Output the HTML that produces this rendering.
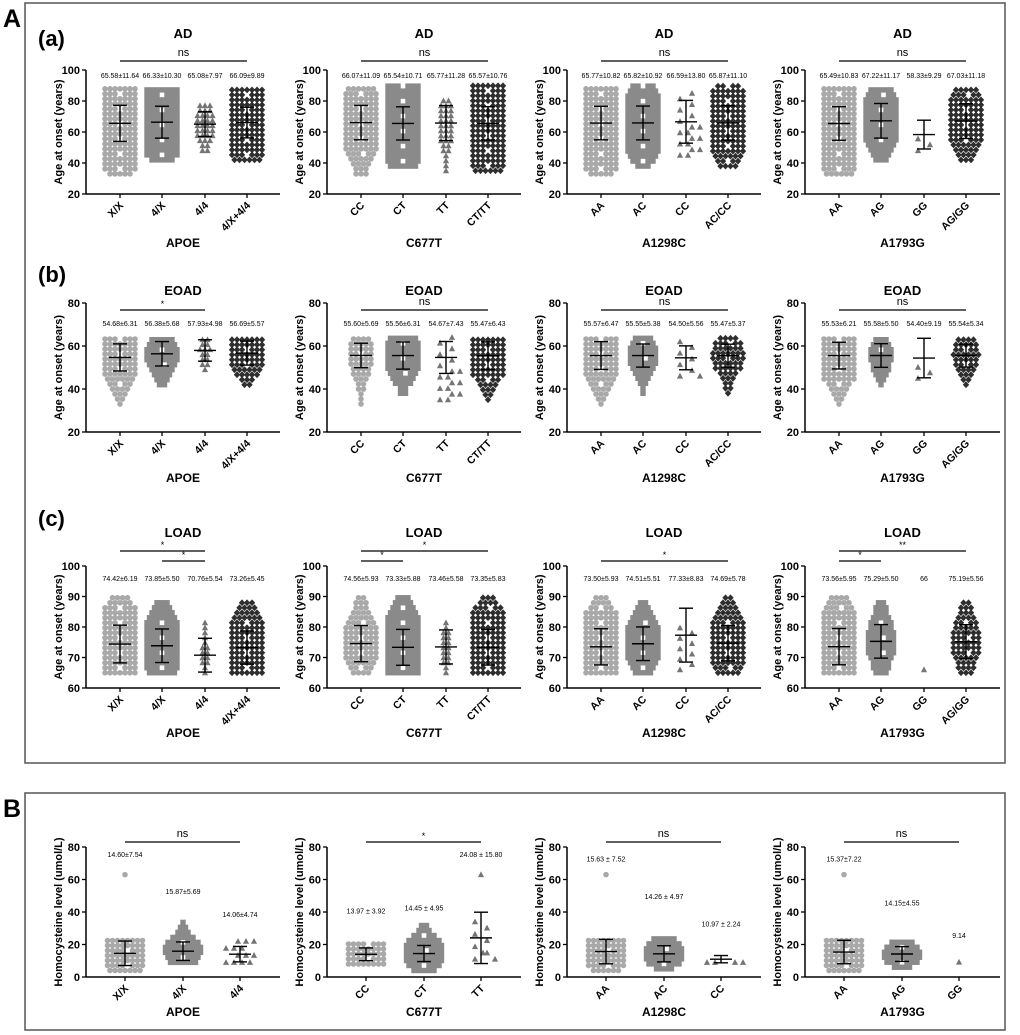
<!DOCTYPE html>
<html><head><meta charset="utf-8"><style>
body{margin:0;background:#fff;}
svg{display:block;font-family:"Liberation Sans",Arial,sans-serif;}
</style></head><body>
<svg id="fig" width="1020" height="1035" viewBox="0 0 1020 1035">
<rect x="25" y="3" width="980" height="760" fill="none" stroke="#555" stroke-width="1.5"/>
<rect x="25" y="793" width="980" height="237" fill="none" stroke="#555" stroke-width="1.5"/>
<text x="3" y="27" font-size="25" font-weight="bold">A</text>
<text x="3" y="817" font-size="25" font-weight="bold">B</text>
<text x="38" y="46" font-size="22" font-weight="bold">(a)</text>
<text x="38" y="282" font-size="22" font-weight="bold">(b)</text>
<text x="38" y="526" font-size="22" font-weight="bold">(c)</text>
</svg>
<script>
// ---- data (per plot: categories, means, sds, mins, maxs, ns) ----
const genes = ["APOE","C677T","A1298C","A1793G"];
const cats4 = [["X/X","4/X","4/4","4/X+4/4"],["CC","CT","TT","CT/TT"],["AA","AC","CC","AC/CC"],["AA","AG","GG","AG/GG"]];
const cats3 = [["X/X","4/X","4/4"],["CC","CT","TT"],["AA","AC","CC"],["AA","AG","GG"]];
// Row a: AD
const adMean = [[65.58,66.33,65.08,66.09],[66.07,65.54,65.77,65.57],[65.77,65.82,66.59,65.87],[65.49,67.22,58.33,67.03]];
const adSd   = [[11.64,10.30,7.97,9.89],[11.09,10.71,11.28,10.76],[10.82,10.92,13.80,11.10],[10.83,11.17,9.29,11.18]];
const adMin  = [[33,42,48,42],[33,38,35,35],[33,38,45,38],[33,42,48,42]];
const adMax  = [[91,88,80,88],[91,90,83,90],[91,90,85,90],[91,88,67,88]];
const adN    = [[400,250,50,300],[200,350,50,400],[400,200,18,220],[450,150,3,153]];
const adLbl  = [["65.58±11.64","66.33±10.30","65.08±7.97","66.09±9.89"],["66.07±11.09","65.54±10.71","65.77±11.28","65.57±10.76"],["65.77±10.82","65.82±10.92","66.59±13.80","65.87±11.10"],["65.49±10.83","67.22±11.17","58.33±9.29","67.03±11.18"]];
// Row b: EOAD
const eoMean = [[54.68,56.38,57.93,56.69],[55.60,55.56,54.67,55.47],[55.57,55.55,54.50,55.47],[55.53,55.58,54.40,55.54]];
const eoSd   = [[6.31,5.68,4.98,5.57],[5.69,6.31,7.43,6.43],[6.47,5.38,5.56,5.37],[6.21,5.50,9.19,5.34]];
const eoMin  = [[33,42,49,42],[33,38,35,35],[33,38,46,38],[33,42,45,42]];
const eoMax  = [[64,64,64,64],[64,64,64,64],[64,64,62,64],[64,64,63,64]];
const eoN    = [[130,80,25,105],[70,110,18,128],[150,70,8,78],[160,55,3,58]];
const eoLbl  = [["54.68±6.31","56.38±5.68","57.93±4.98","56.69±5.57"],["55.60±5.69","55.56±6.31","54.67±7.43","55.47±6.43"],["55.57±6.47","55.55±5.38","54.50±5.56","55.47±5.37"],["55.53±6.21","55.58±5.50","54.40±9.19","55.54±5.34"]];
// Row c: LOAD
const loMean = [[74.42,73.85,70.76,73.26],[74.56,73.33,73.46,73.35],[73.50,74.51,77.33,74.69],[73.56,75.29,66,75.19]];
const loSd   = [[6.19,5.50,5.54,5.45],[5.93,5.88,5.58,5.83],[5.93,5.51,8.83,5.78],[5.95,5.50,0,5.56]];
const loMin  = [[65,65,65,65],[65,65,65,65],[65,65,66,65],[65,65,66,65]];
const loMax  = [[91,88,82,88],[91,90,83,90],[91,89,90,90],[91,88,66,88]];
const loN    = [[270,170,25,195],[130,240,30,270],[250,130,9,140],[290,95,1,96]];
const loLbl  = [["74.42±6.19","73.85±5.50","70.76±5.54","73.26±5.45"],["74.56±5.93","73.33±5.88","73.46±5.58","73.35±5.83"],["73.50±5.93","74.51±5.51","77.33±8.83","74.69±5.78"],["73.56±5.95","75.29±5.50","66","75.19±5.56"]];
// Panel B: homocysteine
const hcMean = [[14.60,15.87,14.06],[13.97,14.45,24.08],[15.63,14.26,10.97],[15.37,14.15,9.14]];
const hcSd   = [[7.54,5.69,4.74],[3.92,4.95,15.80],[7.52,4.97,2.24],[7.22,4.55,0]];
const hcMin  = [[4,9,9],[8,4,11],[4,5,9],[4,6,9.14]];
const hcMax  = [[23,35,22],[23,32,34],[25,24,12],[24,22,9.14]];
const hcOut  = [[63,null,null],[null,null,63],[63,null,null],[63,null,null]];
const hcN    = [[120,70,13],[90,90,9],[120,70,4],[130,60,1]];
const hcLbl  = [["14.60±7.54","15.87±5.69","14.06±4.74"],["13.97 ± 3.92","14.45 ± 4.95","24.08 ± 15.80"],["15.63 ± 7.52","14.26 ± 4.97","10.97 ± 2.24"],["15.37±7.22","14.15±4.55","9.14"]];
const hcLblVal = [[74,51,37],[39,41,74],[71,48,31],[71,44,24]];
// significance annotations [plotIndex, fromCat, toCat, label, level]
const sigA = [[0,0,3,"ns",0],[1,0,3,"ns",0],[2,0,3,"ns",0],[3,0,3,"ns",0]];
const sigB = [[0,0,2,"*",0],[1,0,3,"ns",0],[2,0,3,"ns",0],[3,0,3,"ns",0]];
const sigC = [[0,0,2,"*",1],[0,1,2,"*",0],[1,0,1,"*",0],[1,0,3,"*",1],[2,0,3,"*",0],[3,0,3,"**",1],[3,0,1,"*",0]];
const sigH = [[0,0,2,"ns",0],[1,0,2,"*",0],[2,0,2,"ns",0],[3,0,2,"ns",0]];

const svg = document.getElementById('fig');
const NS = "http://www.w3.org/2000/svg";
const colors = ["#a9a9a9","#8a8a8a","#747474","#2e2e2e"];
const shapes = ["circle","square","triangle","diamond"];
function mk(tag, attrs, parent){ const e=document.createElementNS(NS,tag); for(const k in attrs) e.setAttribute(k,attrs[k]); (parent||svg).appendChild(e); return e; }
function txt(x,y,s,size,bold,anchor,parent){ const t=mk('text',{x:x,y:y,'font-size':size,'text-anchor':anchor||'middle','font-weight':bold?'bold':'normal'},parent); t.textContent=s; return t; }
function phi(z){ const t=1/(1+0.2316419*Math.abs(z)); const d=0.3989423*Math.exp(-z*z/2); let p=d*t*(0.3193815+t*(-0.3565638+t*(1.781478+t*(-1.821256+t*1.330274)))); return z>0?1-p:p; }
function marker(g, shape, x, y, c){
  let e;
  if(shape==="circle") e=mk('circle',{cx:x,cy:y,r:2.8,fill:c},g);
  else if(shape==="square") e=mk('rect',{x:x-2.7,y:y-2.7,width:5.4,height:5.4,fill:c},g);
  else if(shape==="triangle") e=mk('polygon',{points:`${x},${y-3.3} ${x+3.1},${y+2.5} ${x-3.1},${y+2.5}`,fill:c},g);
  else e=mk('polygon',{points:`${x},${y-3.4} ${x+3.2},${y} ${x},${y+3.4} ${x-3.2},${y}`,fill:c},g);
  
  
}
function plot(cfg){
  const g = mk('g',{});
  
  
  const yS = v => cfg.yBot - (v-cfg.yMin)/(cfg.yMax-cfg.yMin)*(cfg.yBot-cfg.yTop);
  const xS = i => cfg.ax + cfg.offs[i];
  const ya = mk('line',{x1:cfg.ax,y1:cfg.yTop,x2:cfg.ax,y2:cfg.yBot,stroke:'#000','stroke-width':1.5},g);
   
  const xa = mk('line',{x1:cfg.ax,y1:cfg.yBot,x2:cfg.xEnd,y2:cfg.yBot,stroke:'#000','stroke-width':1.5},g);
   
  cfg.ticks.forEach(v=>{
    mk('line',{x1:cfg.ax-4,y1:yS(v),x2:cfg.ax,y2:yS(v),stroke:'#000','stroke-width':1.3},g);
    const t=txt(cfg.ax-6,yS(v)+4,String(v),11,true,'end',g);
     
  });
  const yt = txt(0,0,cfg.yTitle,11,true,'middle',g);
  yt.setAttribute('transform',`translate(${cfg.ax-24},${(cfg.yTop+cfg.yBot)/2}) rotate(-90)`);
   
  const cx = cfg.ax + (cfg.xEnd-cfg.ax)/2;
  if(cfg.title){ const tt=txt(cx,cfg.titleY,cfg.title,13,true,'middle',g);   }
  const xn = txt(cx,cfg.nameY,cfg.xName,12,true,'middle',g);
   
  cfg.cats.forEach((c,i)=>{
    const x=xS(i);
    mk('line',{x1:x,y1:cfg.yBot,x2:x,y2:cfg.yBot+4,stroke:'#000','stroke-width':1.3},g);
    const t=txt(0,0,c,10.5,true,'end',g);
    t.setAttribute('transform',`translate(${x+4},${cfg.yBot+12}) rotate(-45)`);
     
    const mean=cfg.mean[i], sd=cfg.sd[i], n=cfg.n[i], lo=cfg.min[i], hi=cfg.max[i];
    const stepPx=5, pxPer=(cfg.yBot-cfg.yTop)/(cfg.yMax-cfg.yMin), step=stepPx/pxPer;
    const maxCols = cfg.maxCols;
    if(n<=1 || sd===0){ marker(g,shapes[i],x,yS(mean),colors[i]); }
    else if(n<20){
      const k=Math.max(1,Math.round((hi-lo)/step));
      for(let j=0;j<n;j++){ const v=lo+(hi-lo)*(j%k)/Math.max(1,k-1)*(k>1?1:0); const col=Math.floor(j/k); const off=(col%2?1:-1)*Math.ceil(col/2)*8 + (j%2?6:-6); marker(g,shapes[i],x+off,yS(Math.min(hi,v)),colors[i]); }
    } else {
      let row=0;
      for(let v=lo; v<=hi+1e-6; v+=step){
        const sc=Math.max(sd*1.5,(hi-lo)/3);
        let c=Math.round(n*(phi((v+step/2-mean)/sc)-phi((v-step/2-mean)/sc))/1.2);
        if(c<1) c=1;
        if(c>maxCols) c=maxCols;
        const gap = (c>=5 && row%3===1) ? 1 : 0;
        for(let j=0;j<c;j++){ if(gap && j===Math.floor(c/2)) continue; const off=(j-(c-1)/2)*stepPx; marker(g,shapes[i],x+off,yS(v),colors[i]); }
        row++;
      }
    }
    if(cfg.out && cfg.out[i]!=null) marker(g,shapes[i],x,yS(cfg.out[i]),colors[i]);
    if(sd>0 && n>1){
      const eb=mk('g',{stroke:'#000','stroke-width':1.4},g);
       
      mk('line',{x1:x,y1:yS(mean-sd),x2:x,y2:yS(mean+sd)},eb);
      mk('line',{x1:x-7,y1:yS(mean+sd),x2:x+7,y2:yS(mean+sd)},eb);
      mk('line',{x1:x-7,y1:yS(mean-sd),x2:x+7,y2:yS(mean-sd)},eb);
      mk('line',{x1:x-11,y1:yS(mean),x2:x+11,y2:yS(mean)},eb);
    }
    const ly = cfg.lblVal ? yS(cfg.lblVal[i]) : cfg.lblY;
    const vl=txt(x,ly,cfg.lbl[i],7,false,'middle',g);
     
  });
  cfg.sig.forEach(s=>{
    const y=cfg.sigY - s[4]*10;
    const l=mk('line',{x1:xS(s[1]),y1:y,x2:xS(s[2]),y2:y,stroke:'#000','stroke-width':1.3},g);
     
    const t=txt((xS(s[1])+xS(s[2]))/2,y-(s[3]==="ns"?5:3),s[3],s[3]==="ns"?11:9,false,'middle',g);
     
  });
}
const axX=[86,327,567,805], axE=[280,521,761,1000];
const offs4=[34,76,119,161], offs3=[39,97,154];
for(let p=0;p<4;p++){
  plot({name:'ad-plot-'+genes[p].toLowerCase(),ax:axX[p],xEnd:axE[p],yTop:70,yBot:194,yMin:20,yMax:100,ticks:[20,40,60,80,100],
    yTitle:'Age at onset (years)',title:'AD',titleY:38,xName:genes[p],nameY:247,cats:cats4[p],offs:offs4,
    mean:adMean[p],sd:adSd[p],min:adMin[p],max:adMax[p],n:adN[p],lbl:adLbl[p],lblY:78,maxCols:7,
    sig:sigA.filter(s=>s[0]===p),sigY:61});
  plot({name:'eoad-plot-'+genes[p].toLowerCase(),ax:axX[p],xEnd:axE[p],yTop:303,yBot:432,yMin:20,yMax:80,ticks:[20,40,60,80],
    yTitle:'Age at onset (years)',title:'EOAD',titleY:295,xName:genes[p],nameY:482,cats:cats4[p],offs:offs4,
    mean:eoMean[p],sd:eoSd[p],min:eoMin[p],max:eoMax[p],n:eoN[p],lbl:eoLbl[p],lblY:326,maxCols:7,
    sig:sigB.filter(s=>s[0]===p),sigY:310});
  plot({name:'load-plot-'+genes[p].toLowerCase(),ax:axX[p],xEnd:axE[p],yTop:566,yBot:688,yMin:60,yMax:100,ticks:[60,70,80,90,100],
    yTitle:'Age at onset (years)',title:'LOAD',titleY:537,xName:genes[p],nameY:737,cats:cats4[p],offs:offs4,
    mean:loMean[p],sd:loSd[p],min:loMin[p],max:loMax[p],n:loN[p],lbl:loLbl[p],lblY:581,maxCols:7,
    sig:sigC.filter(s=>s[0]===p),sigY:561});
  plot({name:'homocysteine-plot-'+genes[p].toLowerCase(),ax:axX[p],xEnd:axE[p],yTop:847,yBot:977,yMin:0,yMax:80,ticks:[0,20,40,60,80],
    yTitle:'Homocysteine level (umol/L)',title:null,xName:genes[p],nameY:1016,cats:cats3[p],offs:offs3,
    mean:hcMean[p],sd:hcSd[p],min:hcMin[p],max:hcMax[p],n:hcN[p],out:hcOut[p],lbl:hcLbl[p],lblVal:hcLblVal[p],maxCols:8,
    sig:sigH.filter(s=>s[0]===p),sigY:842});
}
</script>
</body></html>
